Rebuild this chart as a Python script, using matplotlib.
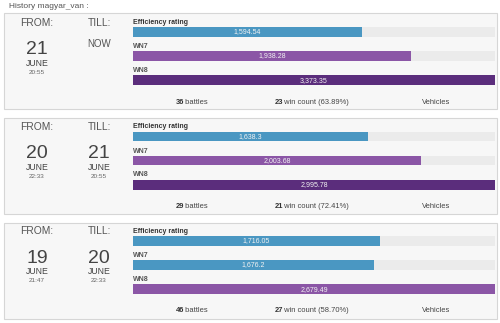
import numpy as np
import matplotlib
matplotlib.use("Agg")
import matplotlib.pyplot as plt
from matplotlib.patches import Rectangle

plt.rcParams['font.family'] = ['Liberation Sans', 'DejaVu Sans']

# data, one entry per history block
player = "magyar_van"
from_day = ["21", "20", "19"]
from_month = ["JUNE", "JUNE", "JUNE"]
from_time = ["20:55", "22:33", "21:47"]
till_day = ["NOW", "21", "20"]
till_month = ["", "JUNE", "JUNE"]
till_time = ["", "20:55", "22:33"]
rating_names = ["Efficiency rating", "WN7", "WN8"]
efficiency = [1594.54, 1638.3, 1716.05]
wn7 = [1938.28, 2003.68, 1676.2]
wn8 = [3373.35, 2995.78, 2679.49]
battles = [36, 29, 46]
wins = [23, 21, 27]
win_pct = [63.89, 72.41, 58.70]
# colour tier of each bar (eff, wn7, wn8)
tiers = [["blue", "purple", "dark"],
         ["blue", "purple", "dark"],
         ["blue", "blue", "purple"]]
scale_max = 2520

tier_colors = {"blue": "#4a97c2", "purple": "#8b56a6", "dark": "#5b2d7c"}

W, H = 500, 323
fig = plt.figure(figsize=(W / 100, H / 100), dpi=100)
fig.patch.set_facecolor("white")


def fx(x):
    return x / W


def fy(y):
    return 1 - y / H


def fmt(v):
    s = f"{v:,.2f}"
    return s.rstrip("0").rstrip(".")


fig.text(fx(9), fy(6), f"History {player} :", fontsize=6, color="#555555",
         va="center", ha="left")

panel_tops = [13.5, 118, 222.5]
panel_h = 96

for i, top in enumerate(panel_tops):
    # panel box
    fig.patches.append(Rectangle((fx(4), fy(top + panel_h)), fx(493), panel_h / H,
                                 transform=fig.transFigure, facecolor="#f7f7f7",
                                 edgecolor="#d6d6d6", linewidth=0.8, zorder=-5))

    # from / till columns
    fig.text(fx(37), fy(top + 9), "FROM:", fontsize=7.4, color="#555555", ha="center", va="center")
    fig.text(fx(99), fy(top + 9), "TILL:", fontsize=7.4, color="#555555", ha="center", va="center")
    fig.text(fx(37), fy(top + 36), from_day[i], fontsize=14, color="#444444", ha="center", va="center")
    fig.text(fx(37), fy(top + 49.5), from_month[i], fontsize=6.3, color="#444444", ha="center", va="center")
    fig.text(fx(37), fy(top + 58.5), from_time[i], fontsize=4.6, color="#666666", ha="center", va="center")
    if till_month[i]:
        fig.text(fx(99), fy(top + 36), till_day[i], fontsize=14, color="#444444", ha="center", va="center")
        fig.text(fx(99), fy(top + 49.5), till_month[i], fontsize=6.3, color="#444444", ha="center", va="center")
        fig.text(fx(99), fy(top + 58.5), till_time[i], fontsize=4.6, color="#666666", ha="center", va="center")
    else:
        fig.text(fx(99), fy(top + 30.5), till_day[i], fontsize=7, color="#555555", ha="center", va="center")

    # rating bars
    vals = np.array([efficiency[i], wn7[i], wn8[i]])
    shown = np.minimum(vals, scale_max)
    ax = fig.add_axes([fx(133), fy(top + 71.5), fx(362), 58 / H])
    ypos = np.arange(3)
    ax.barh(ypos, [scale_max] * 3, height=0.4, color="#ebebeb")
    ax.barh(ypos, shown, height=0.4, color=[tier_colors[t] for t in tiers[i]])
    for y, v, s in zip(ypos, vals, shown):
        ax.text(s / 2, y, fmt(v), fontsize=5, color="#f2f2f2", ha="center", va="center")
    ax.set_xlim(0, scale_max)
    ax.set_ylim(2.2, -0.2)
    ax.axis("off")

    for k, name in enumerate(rating_names):
        fig.text(fx(133), fy(top + 9 + 24 * k), name, fontsize=5, fontweight="bold",
                 color="#333333" if k == 0 else "#555555", ha="left", va="center")

    # stats row
    sy = fy(top + 88.5)
    fig.text(fx(184), sy, str(battles[i]), fontsize=5.4, fontweight="bold", color="#333333", ha="right", va="center")
    fig.text(fx(183), sy, " battles", fontsize=5.4, color="#444444", ha="left", va="center")
    fig.text(fx(283), sy, str(wins[i]), fontsize=5.4, fontweight="bold", color="#333333", ha="right", va="center")
    fig.text(fx(282), sy, f" win count ({win_pct[i]:.2f}%)", fontsize=5.4, color="#444444", ha="left", va="center")
    fig.text(fx(436.5), sy, "Vehicles", fontsize=5.4, color="#444444", ha="center", va="center")

fig.savefig("out.png", dpi=100)
